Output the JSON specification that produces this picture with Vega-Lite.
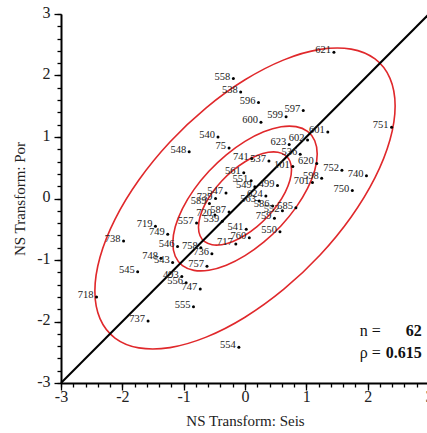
{
  "$schema": "https://vega.github.io/schema/vega-lite/v6.json",
  "width": 368,
  "height": 369,
  "autosize": {"type": "none"},
  "padding": {"left": 61, "top": 14, "right": 0, "bottom": 50},
  "background": "white",
  "config": {
    "view": {"stroke": null},
    "axis": {
      "grid": false,
      "domainColor": "#000",
      "domainWidth": 2,
      "tickColor": "#000",
      "tickWidth": 1.3,
      "labelFont": "Liberation Serif",
      "labelFontSize": 16,
      "labelColor": "#222",
      "titleFont": "Liberation Serif",
      "titleFontSize": 15,
      "titleFontWeight": "normal",
      "titleColor": "#222"
    }
  },
  "datasets": {
    "ellipses": [
      {"e": "outer", "i": 0, "x": 2.4477, "y": 1.5053},
      {"e": "outer", "i": 1, "x": 2.3643, "y": 1.9536},
      {"e": "outer", "i": 2, "x": 2.1198, "y": 2.2687},
      {"e": "outer", "i": 3, "x": 1.7308, "y": 2.4292},
      {"e": "outer", "i": 4, "x": 1.2239, "y": 2.4242},
      {"e": "outer", "i": 5, "x": 0.6335, "y": 2.254},
      {"e": "outer", "i": 6, "x": 0, "y": 1.9301},
      {"e": "outer", "i": 7, "x": -0.6335, "y": 1.4747},
      {"e": "outer", "i": 8, "x": -1.2239, "y": 0.9188},
      {"e": "outer", "i": 9, "x": -1.7308, "y": 0.3003},
      {"e": "outer", "i": 10, "x": -2.1198, "y": -0.3386},
      {"e": "outer", "i": 11, "x": -2.3643, "y": -0.9545},
      {"e": "outer", "i": 12, "x": -2.4477, "y": -1.5053},
      {"e": "outer", "i": 13, "x": -2.3643, "y": -1.9536},
      {"e": "outer", "i": 14, "x": -2.1198, "y": -2.2687},
      {"e": "outer", "i": 15, "x": -1.7308, "y": -2.4292},
      {"e": "outer", "i": 16, "x": -1.2239, "y": -2.4242},
      {"e": "outer", "i": 17, "x": -0.6335, "y": -2.254},
      {"e": "outer", "i": 18, "x": 0, "y": -1.9301},
      {"e": "outer", "i": 19, "x": 0.6335, "y": -1.4747},
      {"e": "outer", "i": 20, "x": 1.2239, "y": -0.9188},
      {"e": "outer", "i": 21, "x": 1.7308, "y": -0.3003},
      {"e": "outer", "i": 22, "x": 2.1198, "y": 0.3386},
      {"e": "outer", "i": 23, "x": 2.3643, "y": 0.9545},
      {"e": "middle", "i": 0, "x": 1.1774, "y": 0.7241},
      {"e": "middle", "i": 1, "x": 1.1373, "y": 0.9397},
      {"e": "middle", "i": 2, "x": 1.0197, "y": 1.0913},
      {"e": "middle", "i": 3, "x": 0.8326, "y": 1.1685},
      {"e": "middle", "i": 4, "x": 0.5887, "y": 1.1661},
      {"e": "middle", "i": 5, "x": 0.3047, "y": 1.0842},
      {"e": "middle", "i": 6, "x": 0, "y": 0.9284},
      {"e": "middle", "i": 7, "x": -0.3047, "y": 0.7094},
      {"e": "middle", "i": 8, "x": -0.5887, "y": 0.442},
      {"e": "middle", "i": 9, "x": -0.8326, "y": 0.1445},
      {"e": "middle", "i": 10, "x": -1.0197, "y": -0.1629},
      {"e": "middle", "i": 11, "x": -1.1373, "y": -0.4591},
      {"e": "middle", "i": 12, "x": -1.1774, "y": -0.7241},
      {"e": "middle", "i": 13, "x": -1.1373, "y": -0.9397},
      {"e": "middle", "i": 14, "x": -1.0197, "y": -1.0913},
      {"e": "middle", "i": 15, "x": -0.8326, "y": -1.1685},
      {"e": "middle", "i": 16, "x": -0.5887, "y": -1.1661},
      {"e": "middle", "i": 17, "x": -0.3047, "y": -1.0842},
      {"e": "middle", "i": 18, "x": 0, "y": -0.9284},
      {"e": "middle", "i": 19, "x": 0.3047, "y": -0.7094},
      {"e": "middle", "i": 20, "x": 0.5887, "y": -0.442},
      {"e": "middle", "i": 21, "x": 0.8326, "y": -0.1445},
      {"e": "middle", "i": 22, "x": 1.0197, "y": 0.1629},
      {"e": "middle", "i": 23, "x": 1.1373, "y": 0.4591},
      {"e": "inner", "i": 0, "x": 0.7585, "y": 0.4665},
      {"e": "inner", "i": 1, "x": 0.7327, "y": 0.6054},
      {"e": "inner", "i": 2, "x": 0.6569, "y": 0.703},
      {"e": "inner", "i": 3, "x": 0.5363, "y": 0.7528},
      {"e": "inner", "i": 4, "x": 0.3793, "y": 0.7512},
      {"e": "inner", "i": 5, "x": 0.1963, "y": 0.6985},
      {"e": "inner", "i": 6, "x": 0, "y": 0.5981},
      {"e": "inner", "i": 7, "x": -0.1963, "y": 0.457},
      {"e": "inner", "i": 8, "x": -0.3793, "y": 0.2847},
      {"e": "inner", "i": 9, "x": -0.5363, "y": 0.0931},
      {"e": "inner", "i": 10, "x": -0.6569, "y": -0.1049},
      {"e": "inner", "i": 11, "x": -0.7327, "y": -0.2958},
      {"e": "inner", "i": 12, "x": -0.7585, "y": -0.4665},
      {"e": "inner", "i": 13, "x": -0.7327, "y": -0.6054},
      {"e": "inner", "i": 14, "x": -0.6569, "y": -0.703},
      {"e": "inner", "i": 15, "x": -0.5363, "y": -0.7528},
      {"e": "inner", "i": 16, "x": -0.3793, "y": -0.7512},
      {"e": "inner", "i": 17, "x": -0.1963, "y": -0.6985},
      {"e": "inner", "i": 18, "x": 0, "y": -0.5981},
      {"e": "inner", "i": 19, "x": 0.1963, "y": -0.457},
      {"e": "inner", "i": 20, "x": 0.3793, "y": -0.2847},
      {"e": "inner", "i": 21, "x": 0.5363, "y": -0.0931},
      {"e": "inner", "i": 22, "x": 0.6569, "y": 0.1049},
      {"e": "inner", "i": 23, "x": 0.7327, "y": 0.2958}
    ],
    "diag": [
      {"x": -3, "y": -3},
      {"x": 3, "y": 3}
    ],
    "points": [
      {"id": "621", "x": 1.45, "y": 2.38},
      {"id": "558", "x": -0.19, "y": 1.95},
      {"id": "538", "x": -0.07, "y": 1.73},
      {"id": "596", "x": 0.22, "y": 1.56},
      {"id": "597", "x": 0.95, "y": 1.43},
      {"id": "599", "x": 0.67, "y": 1.33},
      {"id": "600", "x": 0.26, "y": 1.24},
      {"id": "601", "x": 1.35, "y": 1.08},
      {"id": "751", "x": 2.39, "y": 1.16},
      {"id": "540", "x": -0.44, "y": 1.0},
      {"id": "75", "x": -0.26, "y": 0.82},
      {"id": "548", "x": -0.91, "y": 0.76},
      {"id": "602", "x": 1.02, "y": 0.95},
      {"id": "623", "x": 0.72, "y": 0.88},
      {"id": "536", "x": 0.9, "y": 0.72},
      {"id": "620", "x": 1.17, "y": 0.57},
      {"id": "101", "x": 0.78, "y": 0.52},
      {"id": "537", "x": 0.39, "y": 0.61},
      {"id": "741", "x": 0.11, "y": 0.65},
      {"id": "561", "x": -0.02, "y": 0.42},
      {"id": "551", "x": 0.1, "y": 0.29},
      {"id": "549", "x": 0.16, "y": 0.19},
      {"id": "499", "x": 0.53, "y": 0.21},
      {"id": "624", "x": 0.34, "y": 0.04},
      {"id": "563", "x": 0.23, "y": -0.04},
      {"id": "586", "x": 0.45, "y": -0.12},
      {"id": "552", "x": 0.61, "y": -0.2},
      {"id": "585", "x": 0.83, "y": -0.15},
      {"id": "759", "x": 0.48, "y": -0.32},
      {"id": "550", "x": 0.57, "y": -0.54},
      {"id": "541", "x": 0.02, "y": -0.5},
      {"id": "760", "x": 0.07, "y": -0.64},
      {"id": "717", "x": -0.15, "y": -0.74},
      {"id": "752", "x": 1.58, "y": 0.46},
      {"id": "740", "x": 1.98, "y": 0.37},
      {"id": "598", "x": 1.25, "y": 0.33},
      {"id": "701", "x": 1.1, "y": 0.26},
      {"id": "750", "x": 1.75, "y": 0.13},
      {"id": "739", "x": -0.48, "y": 0.0},
      {"id": "547", "x": -0.31, "y": 0.09},
      {"id": "589", "x": -0.58, "y": -0.08},
      {"id": "720", "x": -0.49, "y": -0.27},
      {"id": "587", "x": -0.26, "y": -0.22},
      {"id": "539", "x": -0.37, "y": -0.37},
      {"id": "557", "x": -0.79, "y": -0.4},
      {"id": "719", "x": -1.46, "y": -0.45},
      {"id": "749", "x": -1.26, "y": -0.58},
      {"id": "738", "x": -1.98, "y": -0.69},
      {"id": "546", "x": -1.1, "y": -0.78},
      {"id": "758", "x": -0.72, "y": -0.8},
      {"id": "736", "x": -0.54, "y": -0.9},
      {"id": "757", "x": -0.62, "y": -1.1},
      {"id": "748", "x": -1.37, "y": -0.97},
      {"id": "543", "x": -1.18, "y": -1.04},
      {"id": "545", "x": -1.75, "y": -1.19},
      {"id": "493", "x": -1.03, "y": -1.27},
      {"id": "556", "x": -0.96, "y": -1.37},
      {"id": "747", "x": -0.73, "y": -1.47},
      {"id": "555", "x": -0.84, "y": -1.76},
      {"id": "718", "x": -2.42, "y": -1.6},
      {"id": "737", "x": -1.58, "y": -1.99},
      {"id": "554", "x": -0.1, "y": -2.42}
    ]
  },
  "layer": [
    {
      "data": {"name": "ellipses"},
      "mark": {"type": "line", "interpolate": "cardinal-closed", "color": "#e0282b", "strokeWidth": 1.6},
      "encoding": {
        "x": {
          "field": "x", "type": "quantitative",
          "scale": {"domain": [-3, 3], "nice": false, "zero": false},
          "axis": {"orient": "bottom", "values": [-3, -2, -1, 0, 1, 2, 3], "labelExpr": "datum.value < 0 ? '-' + abs(datum.value) : '' + datum.value", "tickSize": 7, "labelPadding": -2, "title": "NS Transform: Seis", "titlePadding": 9, "labelFlush": false, "labelOverlap": false}
        },
        "y": {
          "field": "y", "type": "quantitative",
          "scale": {"domain": [-3, 3], "nice": false, "zero": false},
          "axis": {"orient": "left", "values": [-3, -2, -1, 0, 1, 2, 3], "labelExpr": "datum.value < 0 ? '-' + abs(datum.value) : '' + datum.value", "tickSize": 7, "labelPadding": 4, "labelOffset": -2, "title": "NS Transform: Por", "titlePadding": 9, "labelFlush": false, "labelOverlap": false}
        },
        "detail": {"field": "e"},
        "order": {"field": "i", "type": "quantitative"}
      }
    },
    {
      "data": {"name": "diag"},
      "mark": {"type": "line", "color": "#000", "strokeWidth": 2},
      "encoding": {
        "x": {
          "field": "x", "type": "quantitative",
          "scale": {"domain": [-3, 3], "nice": false, "zero": false},
          "axis": {"orient": "bottom", "values": [-3, -2.8, -2.6, -2.4, -2.2, -2, -1.8, -1.6, -1.4, -1.2, -1, -0.8, -0.6, -0.4, -0.2, 0, 0.2, 0.4, 0.6, 0.8, 1, 1.2, 1.4, 1.6, 1.8, 2, 2.2, 2.4, 2.6, 2.8, 3], "tickSize": 4, "labels": false, "domain": false, "title": null}
        },
        "y": {
          "field": "y", "type": "quantitative",
          "scale": {"domain": [-3, 3], "nice": false, "zero": false},
          "axis": {"orient": "left", "values": [-3, -2.8, -2.6, -2.4, -2.2, -2, -1.8, -1.6, -1.4, -1.2, -1, -0.8, -0.6, -0.4, -0.2, 0, 0.2, 0.4, 0.6, 0.8, 1, 1.2, 1.4, 1.6, 1.8, 2, 2.2, 2.4, 2.6, 2.8, 3], "tickSize": 4, "labels": false, "domain": false, "title": null}
        }
      }
    },
    {
      "data": {"name": "points"},
      "mark": {"type": "circle", "color": "#000", "opacity": 1, "size": 9},
      "encoding": {
        "x": {"field": "x", "type": "quantitative", "axis": null},
        "y": {"field": "y", "type": "quantitative", "axis": null}
      }
    },
    {
      "data": {"name": "points"},
      "mark": {"type": "text", "align": "right", "baseline": "alphabetic", "dx": -3, "dy": 1, "font": "Liberation Serif", "fontSize": 10.5, "color": "#222"},
      "encoding": {
        "x": {"field": "x", "type": "quantitative", "axis": null},
        "y": {"field": "y", "type": "quantitative", "axis": null},
        "text": {"field": "id"}
      }
    },
    {
      "data": {"values": [{"t": "n ="}]},
      "mark": {"type": "text", "align": "left", "baseline": "alphabetic", "font": "Liberation Serif", "fontSize": 16, "color": "#111"},
      "encoding": {
        "x": {"datum": 1.87, "type": "quantitative", "axis": null},
        "y": {"datum": -2.23, "type": "quantitative", "axis": null},
        "text": {"field": "t"}
      }
    },
    {
      "data": {"values": [{"t": "62"}]},
      "mark": {"type": "text", "align": "right", "baseline": "alphabetic", "font": "Liberation Serif", "fontSize": 16, "fontWeight": "bold", "color": "#111"},
      "encoding": {
        "x": {"datum": 2.88, "type": "quantitative", "axis": null},
        "y": {"datum": -2.23, "type": "quantitative", "axis": null},
        "text": {"field": "t"}
      }
    },
    {
      "data": {"values": [{"t": "ρ ="}]},
      "mark": {"type": "text", "align": "left", "baseline": "alphabetic", "font": "Liberation Serif", "fontSize": 16, "color": "#111"},
      "encoding": {
        "x": {"datum": 1.87, "type": "quantitative", "axis": null},
        "y": {"datum": -2.59, "type": "quantitative", "axis": null},
        "text": {"field": "t"}
      }
    },
    {
      "data": {"values": [{"t": "0.615"}]},
      "mark": {"type": "text", "align": "right", "baseline": "alphabetic", "font": "Liberation Serif", "fontSize": 16, "fontWeight": "bold", "color": "#111"},
      "encoding": {
        "x": {"datum": 2.88, "type": "quantitative", "axis": null},
        "y": {"datum": -2.59, "type": "quantitative", "axis": null},
        "text": {"field": "t"}
      }
    }
  ],
  "resolve": {"axis": {"x": "independent", "y": "independent"}}
}
